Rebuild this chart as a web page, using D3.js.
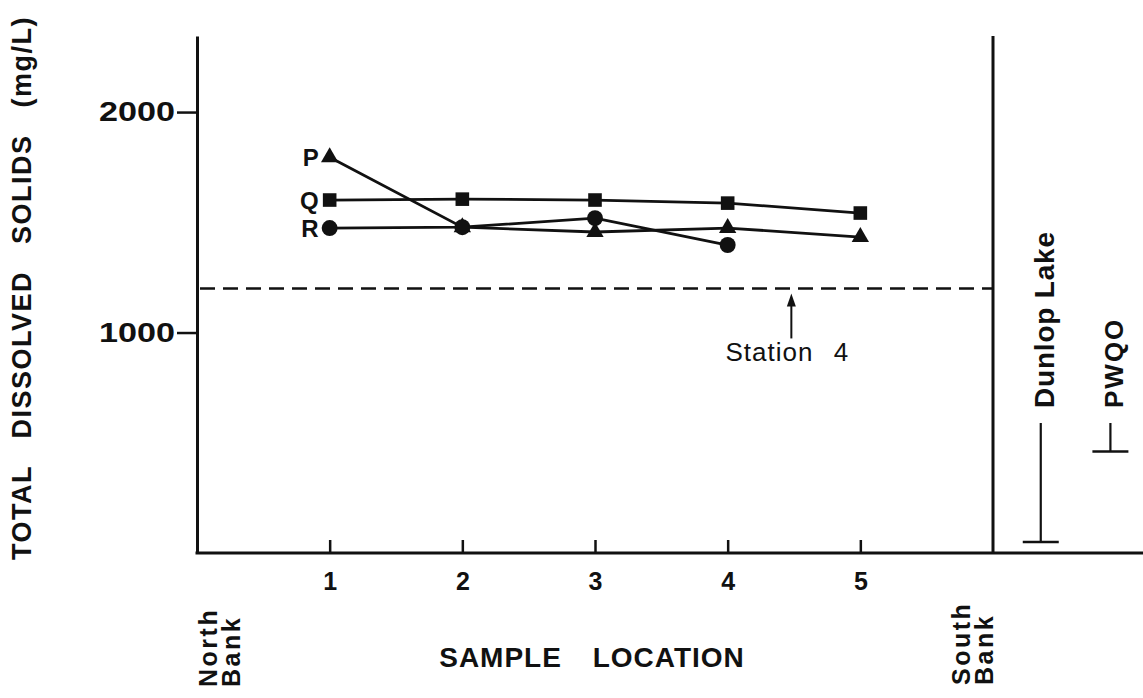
<!DOCTYPE html>
<html><head><meta charset="utf-8">
<script src="https://cdn.jsdelivr.net/npm/d3@7"></script>
<style>body{margin:0;background:#fff} svg{display:block}</style>
</head><body>
<svg id="chart" width="1143" height="698"></svg>
<script>
// ---- data ----
const locations = [1, 2, 3, 4, 5];
const seriesP = [1795, 1478, 1456, 1474, 1433];
const seriesQ = [1601, 1605, 1601, 1587, 1542];
const seriesR = [1474, 1478, 1519, 1397];
const seriesNames = ["P", "Q", "R"];
const yTicks = [1000, 2000];
const yTickLabels = ["1000", "2000"];
const station4Level = 1200;
const station4Position = 4.48;
const referenceNames = ["Dunlop Lake", "PWQO"];
const referenceValues = [50, 460];

// ---- layout ----
const W = 1143, H = 698;
const svg = d3.select("#chart");
const x = d3.scaleLinear().domain([0, 6]).range([197, 993]);
const y = d3.scaleLinear().domain([0, 2345]).range([553, 36]);
const ink = "#111";
const font = "'Liberation Sans', Arial, Helvetica, sans-serif";

// y axis
const yAxis = d3.axisLeft(y).tickValues(yTicks)
  .tickFormat((d, i) => yTickLabels[i])
  .tickSizeInner(20).tickSizeOuter(0).tickPadding(2);
const gy = svg.append("g").attr("transform", `translate(${x(0)},0)`).call(yAxis);
gy.select(".domain").attr("stroke", ink).attr("stroke-width", 3);
gy.selectAll(".tick line").attr("stroke", ink).attr("stroke-width", 2.5);
gy.selectAll(".tick text").attr("font-family", font).attr("font-size", 27)
  .attr("font-weight", "bold").attr("fill", ink)
  .attr("textLength", 76).attr("lengthAdjust", "spacingAndGlyphs");

// x axis
const xAxis = d3.axisBottom(x).tickValues(locations).tickFormat(d3.format("d"))
  .tickSizeInner(-13).tickSizeOuter(0).tickPadding(19);
const gx = svg.append("g").attr("transform", `translate(0,${y(0)})`).call(xAxis);
gx.select(".domain").remove();
gx.selectAll(".tick line").attr("stroke", ink).attr("stroke-width", 2.5);
gx.selectAll(".tick text").attr("font-family", font).attr("font-size", 25)
  .attr("font-weight", "bold").attr("fill", ink);
svg.append("line").attr("x1", x(0) - 1.5).attr("x2", W).attr("y1", y(0)).attr("y2", y(0))
  .attr("stroke", ink).attr("stroke-width", 3);

// south bank line
svg.append("line").attr("x1", x(6)).attr("x2", x(6)).attr("y1", y.range()[1]).attr("y2", y(0))
  .attr("stroke", ink).attr("stroke-width", 3);

// station 4 dashed line
svg.append("line").attr("x1", x(0) + 3).attr("x2", x(6)).attr("y1", y(station4Level)).attr("y2", y(station4Level))
  .attr("stroke", ink).attr("stroke-width", 2.6).attr("stroke-dasharray", "15,8");
const ax = x(station4Position), tip = y(station4Level) + 5;
svg.append("line").attr("x1", ax).attr("x2", ax).attr("y1", tip + 8).attr("y2", tip + 45)
  .attr("stroke", ink).attr("stroke-width", 2);
svg.append("path").attr("d", `M${ax},${tip}L${ax - 4.5},${tip + 13}L${ax + 4.5},${tip + 13}Z`).attr("fill", ink);
svg.append("text").attr("x", ax - 4).attr("y", y(station4Level) + 73)
  .attr("text-anchor", "middle").attr("font-family", font).attr("font-size", 26)
  .attr("letter-spacing", 1).attr("word-spacing", 12).attr("fill", ink).text("Station 4");

// series
const series = [
  { name: seriesNames[0], values: seriesP, shape: d3.symbolTriangle, size: 130 },
  { name: seriesNames[1], values: seriesQ, shape: d3.symbolSquare, size: 185 },
  { name: seriesNames[2], values: seriesR, shape: d3.symbolCircle, size: 200 }
];
const line = d3.line().x((d, i) => x(locations[i])).y(d => y(d));
series.forEach(s => {
  svg.append("path").datum(s.values).attr("d", line)
    .attr("fill", "none").attr("stroke", ink).attr("stroke-width", 2.8);
});
series.forEach(s => {
  svg.append("g").selectAll("path").data(s.values).join("path")
    .attr("transform", (d, i) => `translate(${x(locations[i])},${y(d)})`)
    .attr("d", d3.symbol().type(s.shape).size(s.size)).attr("fill", ink);
  svg.append("text").attr("x", x(1) - 11).attr("y", y(s.values[0])).attr("dy", "0.36em")
    .attr("text-anchor", "end").attr("font-family", font).attr("font-size", 24)
    .attr("font-weight", "bold").attr("fill", ink).text(s.name);
});

// reference markers (Dunlop Lake, PWQO)
const refX = [x(6.36), x(6.885)];
const labelBottom = 408;
referenceNames.forEach((name, i) => {
  const rx = refX[i], ry = y(referenceValues[i]);
  svg.append("line").attr("x1", rx).attr("x2", rx).attr("y1", labelBottom + 15).attr("y2", ry)
    .attr("stroke", ink).attr("stroke-width", 2.2);
  svg.append("line").attr("x1", rx - 18).attr("x2", rx + 18).attr("y1", ry).attr("y2", ry)
    .attr("stroke", ink).attr("stroke-width", 2.5);
  svg.append("text").attr("transform", `translate(${rx + 13},${labelBottom}) rotate(-90)`)
    .attr("font-family", font).attr("font-size", i === 0 ? 28 : 26).attr("font-weight", "bold")
    .attr("letter-spacing", i === 0 ? 0.8 : 2).attr("fill", ink).text(name);
});

// axis titles
svg.append("text").attr("transform", `translate(31,560) rotate(-90)`)
  .attr("font-family", font).attr("font-size", 27).attr("font-weight", "bold")
  .attr("letter-spacing", 1.5).attr("word-spacing", 18).attr("fill", ink)
  .text("TOTAL DISSOLVED SOLIDS (mg/L)");
svg.append("text").attr("x", 592).attr("y", 667).attr("text-anchor", "middle")
  .attr("font-family", font).attr("font-size", 28).attr("font-weight", "bold")
  .attr("letter-spacing", 1).attr("word-spacing", 22).attr("fill", ink)
  .text("SAMPLE LOCATION");

// bank labels
function bank(lines, bx, by) {
  lines.forEach((t, i) => {
    svg.append("text").attr("transform", `translate(${bx + i * 23},${by}) rotate(-90)`)
      .attr("font-family", font).attr("font-size", 25).attr("font-weight", "bold")
      .attr("letter-spacing", 2.5).attr("fill", ink).text(t);
  });
}
bank(["North", "Bank"], x(0) + 20, 687);
bank(["South", "Bank"], x(6) - 23, 685);
</script>
</body></html>
